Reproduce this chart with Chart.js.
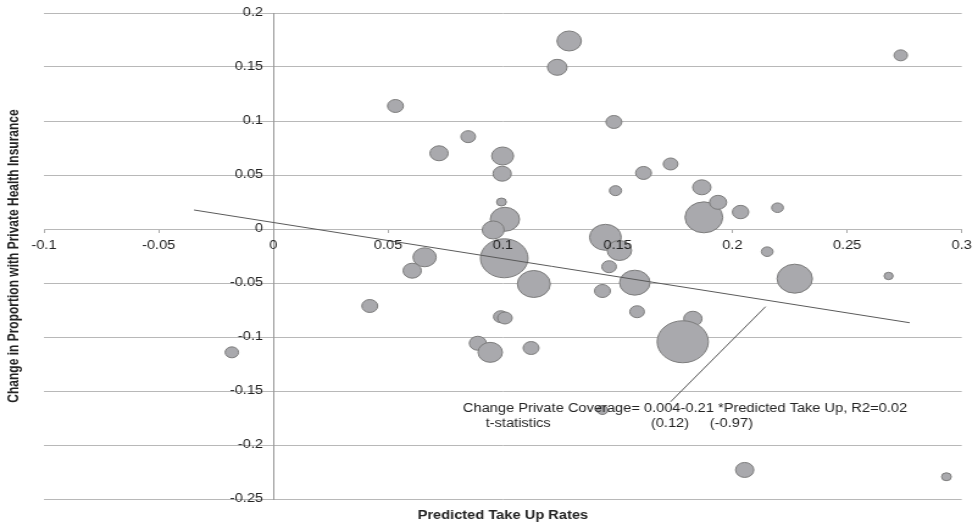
<!DOCTYPE html>
<html>
<head>
<meta charset="utf-8">
<script src="https://cdn.jsdelivr.net/npm/chart.js@4"></script>
<style>
    html, body { margin: 0; padding: 0; background: #fff; overflow: hidden; }
    #chart { transform: scaleX(1.2195); transform-origin: 0 0; }
</style>
</head>
<body>
<canvas id="chart" width="802" height="526"></canvas>
<script>
// one bubble per state: predicted take-up vs change in private coverage
const takeUp = [
    0.1289, 0.1237, 0.0532, 0.1484, 0.0849, 0.0722, 0.0999, 0.0997, 0.0994, 0.1009,
    0.0958, 0.1006, 0.1135, 0.0659, 0.0605, 0.0420, 0.0991, 0.1009, 0.0891, 0.0945,
    0.1123, -0.0181, 0.1491, 0.1613, 0.1731, 0.1867, 0.1876, 0.1938, 0.2036, 0.2197,
    0.2152, 0.1447, 0.1508, 0.1463, 0.1575, 0.1434, 0.1585, 0.1828, 0.1784, 0.2272,
    0.2681, 0.2734, 0.2054, 0.2933, 0.1434
]
const coverageChange = [
    0.1741, 0.1497, 0.1139, 0.0991, 0.0855, 0.0701, 0.0676, 0.0512, 0.0250, 0.0090,
    -0.0009, -0.0271, -0.0509, -0.0262, -0.0386, -0.0713, -0.0812, -0.0824, -0.1058, -0.1142,
    -0.1102, -0.1142, 0.0355, 0.0519, 0.0602, 0.0386, 0.0108, 0.0247, 0.0157, 0.0197,
    -0.0210, -0.0077, -0.0199, -0.0349, -0.0497, -0.0574, -0.0766, -0.0831, -0.1044, -0.0460,
    -0.0435, 0.1608, -0.2231, -0.2294, -0.1676
]
const bubbleSize = [
    10, 8, 6.5, 6.5, 6, 7.5, 9, 7.5, 4, 12,
    9, 19.5, 13.5, 9.5, 7.5, 6.5, 6, 6, 7, 10,
    6.5, 5.5, 5, 6.5, 6, 7.5, 15.5, 7, 6.7, 4.8,
    4.8, 13, 10, 6, 12.5, 6.5, 6, 7.5, 21, 14.5,
    3.7, 5.5, 7.5, 4, 4.5
]

// fitted line and the pointer from the equation to it
const trendX = [-0.0346, 0.2773]
const trendY = [0.0176, -0.0868]
const leaderX = [0.2145, 0.1731]
const leaderY = [-0.0719, -0.1600]

const xTicks = [-0.1, -0.05, 0, 0.05, 0.1, 0.15, 0.2, 0.25, 0.3]
const yTicks = [-0.25, -0.2, -0.15, -0.1, -0.05, 0, 0.05, 0.1, 0.15, 0.2]

const FONT = 'Liberation Sans, Arial, Helvetica, sans-serif'

const fmt = (v) => String(Number(v.toFixed(2)))

const toPoints = (xs, ys) => xs.map((x, i) => ({ x: x, y: ys[i] }))

const notes = {
    id: 'notes',
    afterDraw(chart) {
        const { ctx, chartArea, scales } = chart
        const px = (v) => scales.x.getPixelForValue(v)
        const py = (v) => scales.y.getPixelForValue(v)

        ctx.save()
        ctx.fillStyle = '#222'
        ctx.textBaseline = 'middle'
        ctx.textAlign = 'left'
        ctx.font = '12px ' + FONT
        ctx.fillText('Change Private Coverage= 0.004-0.21 *Predicted Take Up, R2=0.02', px(0.0826), py(-0.1667))
        ctx.fillText('t-statistics', px(0.0925), py(-0.1803))
        ctx.fillText('(0.12)', px(0.1645), py(-0.1803))
        ctx.fillText('(-0.97)', px(0.1902), py(-0.1803))

        ctx.font = 'bold 12px ' + FONT
        ctx.textAlign = 'center'
        ctx.fillText('Predicted Take Up Rates', (chartArea.left + chartArea.right) / 2, 516)

        ctx.translate(11.5, (chartArea.top + chartArea.bottom) / 2)
        ctx.rotate(-Math.PI / 2)
        ctx.fillText('Change in Proportion with Private Health Insurance', 0, 0)
        ctx.restore()
    }
}

new Chart(document.getElementById('chart'), {
    type: 'bubble',
    data: {
        datasets: [
            {
                type: 'line',
                data: toPoints(trendX, trendY),
                borderColor: '#5a5a5a',
                borderWidth: 1,
                pointRadius: 0
            },
            {
                type: 'line',
                data: toPoints(leaderX, leaderY),
                borderColor: '#5a5a5a',
                borderWidth: 1,
                pointRadius: 0
            },
            {
                data: takeUp.map((x, i) => ({ x: x, y: coverageChange[i], r: bubbleSize[i] })),
                backgroundColor: '#a9a9ad',
                borderColor: '#7c7c7c',
                borderWidth: 1
            }
        ]
    },
    options: {
        responsive: false,
        devicePixelRatio: 1,
        animation: false,
        layout: { autoPadding: false, padding: { left: 36, right: 13, top: 13, bottom: 27 } },
        plugins: {
            legend: { display: false },
            tooltip: { enabled: false }
        },
        scales: {
            x: {
                type: 'linear',
                min: -0.1,
                max: 0.3,
                position: { y: 0 },
                afterBuildTicks: (scale) => { scale.ticks = xTicks.map(v => ({ value: v })) },
                ticks: {
                    callback: (v) => fmt(v),
                    font: { family: FONT, size: 12 },
                    color: '#222',
                    padding: 5,
                    maxRotation: 0,
                    autoSkip: false,
                    z: 1
                },
                grid: { drawOnChartArea: false, drawTicks: true, tickLength: 4, color: '#aaa' },
                border: { display: false }
            },
            y: {
                type: 'linear',
                min: -0.25,
                max: 0.2,
                position: { x: 0 },
                afterBuildTicks: (scale) => { scale.ticks = yTicks.map(v => ({ value: v })) },
                ticks: {
                    // labels sit just left of the centred axis line
                    callback: (v) => fmt(v) + '\u2002\u2009',
                    font: { family: FONT, size: 12 },
                    color: '#222',
                    autoSkip: false
                },
                grid: { color: '#b8b8b8', drawTicks: false },
                border: { display: true, color: '#999' }
            }
        }
    },
    plugins: [notes]
})
</script>
</body>
</html>
